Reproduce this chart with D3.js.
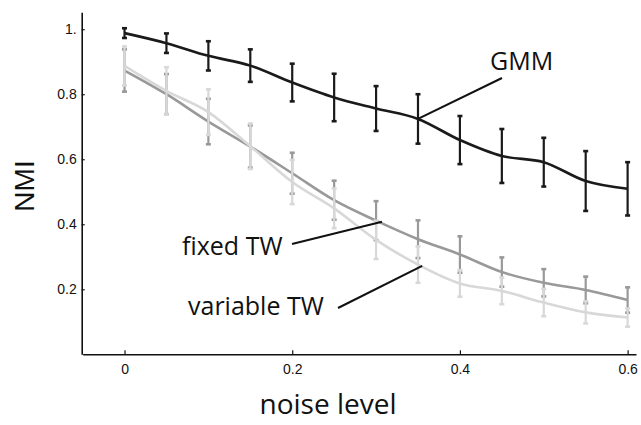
<!DOCTYPE html>
<html><head><meta charset="utf-8">
<script src="https://cdn.jsdelivr.net/npm/d3@7"></script>
<style>body{margin:0;background:#fff}svg{display:block}</style>
</head><body>
<svg id="c" width="641" height="425"></svg>
<script>
const noise = [0,0.05,0.1,0.15,0.2,0.25,0.3,0.35,0.4,0.45,0.5,0.55,0.6];
const gmmMean = [0.988,0.957,0.918,0.888,0.836,0.790,0.756,0.724,0.659,0.610,0.591,0.533,0.509];
const gmmErr  = [0.015,0.030,0.045,0.050,0.058,0.073,0.069,0.076,0.074,0.083,0.075,0.092,0.082];
const fixedMean = [0.873,0.800,0.716,0.639,0.557,0.474,0.411,0.354,0.307,0.253,0.220,0.198,0.167];
const fixedErr  = [0.065,0.062,0.070,0.065,0.063,0.060,0.060,0.058,0.056,0.045,0.042,0.041,0.039];
const varMean = [0.887,0.810,0.745,0.640,0.530,0.449,0.352,0.276,0.218,0.195,0.159,0.129,0.113];
const varErr  = [0.060,0.073,0.070,0.070,0.068,0.061,0.059,0.056,0.041,0.041,0.042,0.034,0.028];
const xTicks = [0,0.2,0.4,0.6];
const yTicks = [0.2,0.4,0.6,0.8,1];
const yTickLabels = ["0.2","0.4","0.6","0.8","1."];

const svg = d3.select("#c");
const x = d3.scaleLinear().domain([-0.05,0.61]).range([82.6,636]);
const y = d3.scaleLinear().domain([0,1.052]).range([354.3,12.3]);

// axes
const xAxis = svg.append("g").attr("transform",`translate(0,${y(0)})`)
  .call(d3.axisBottom(x).tickValues(xTicks).tickFormat(d=>d===0?"0":d3.format(".1f")(d)).tickSizeInner(-4).tickSizeOuter(0).tickPadding(10));
const yAxis = svg.append("g").attr("transform",`translate(${x(-0.05)-0.9},0)`)
  .call(d3.axisLeft(y).tickValues(yTicks).tickFormat((d,i)=>yTickLabels[i]).tickSizeInner(-3).tickSizeOuter(0).tickPadding(5));
[xAxis,yAxis].forEach(g=>{
  g.select(".domain").attr("stroke","#111").attr("stroke-width",1.6);
  g.selectAll(".tick line").attr("stroke","#111").attr("stroke-width",1.2);
  g.selectAll("text").attr("font-family","Liberation Sans, Arial, sans-serif").attr("font-size",14).attr("fill","#111");
});

const series = [
  {mean:fixedMean, err:fixedErr, color:"#999999"},
  {mean:varMean, err:varErr, color:"#d8d8d8"},
  {mean:gmmMean, err:gmmErr, color:"#1a1a1a"}
];
const line = d3.line().x((d,i)=>x(noise[i])).y(d=>y(d)).curve(d3.curveMonotoneX);
series.forEach(s=>{
  const g = svg.append("g");
  g.append("path").datum(s.mean).attr("d",line).attr("fill","none").attr("stroke",s.color).attr("stroke-width",2.6);
  const eb = g.selectAll(".eb").data(s.mean).enter().append("g");
  eb.append("line").attr("x1",(d,i)=>x(noise[i])).attr("x2",(d,i)=>x(noise[i]))
    .attr("y1",(d,i)=>y(d+s.err[i])).attr("y2",(d,i)=>y(d-s.err[i]))
    .attr("stroke",s.color).attr("stroke-width",2.2);
  [1,-1].forEach(sg=>{
    eb.append("line").attr("x1",(d,i)=>x(noise[i])-2.5).attr("x2",(d,i)=>x(noise[i])+2.5)
      .attr("y1",(d,i)=>y(d+sg*s.err[i])).attr("y2",(d,i)=>y(d+sg*s.err[i]))
      .attr("stroke",s.color).attr("stroke-width",2.6);
  });
});

// annotations
const ann = [
  {text:"GMM", tx:490, ty:70, x1:502, y1:78, px:0.35, py:gmmMean[7]},
  {text:"fixed TW", tx:182, ty:255, x1:292, y1:244, px:0.307, py:0.408},
  {text:"variable TW", tx:188, ty:315, x1:338, y1:308, px:0.355, py:0.272}
];
ann.forEach(a=>{
  svg.append("line").attr("x1",a.x1).attr("y1",a.y1).attr("x2",x(a.px)).attr("y2",y(a.py))
    .attr("stroke","#111").attr("stroke-width",2);
  svg.append("text").attr("x",a.tx).attr("y",a.ty).text(a.text)
    .attr("font-family","Open Sans, Noto Sans, sans-serif").attr("font-size",25).attr("fill","#111");
});

svg.append("text").attr("transform","translate(34,186) rotate(-90)").attr("text-anchor","middle")
  .attr("font-family","Liberation Sans, Arial, sans-serif").attr("font-size",28).attr("fill","#111").text("NMI");
svg.append("text").attr("x",328).attr("y",414).attr("text-anchor","middle")
  .attr("font-family","Open Sans, Noto Sans, sans-serif").attr("font-size",28).attr("fill","#111").text("noise level");
</script>
</body></html>
